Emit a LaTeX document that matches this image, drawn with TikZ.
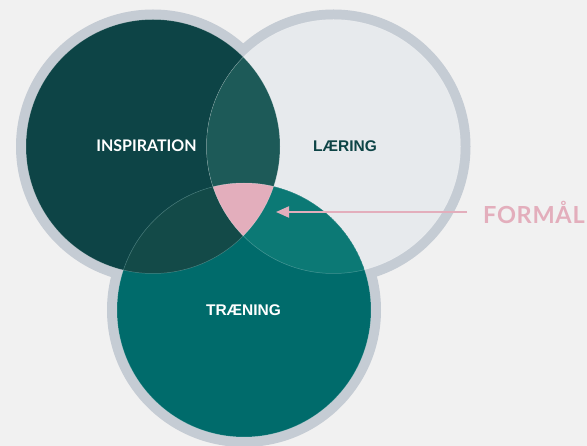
\documentclass[tikz,border=0pt]{standalone}
\usepackage{fontspec}
\setmainfont{Lato}
\newfontfamily\arialfont{Liberation Sans}
\newfontfamily\formalfont[LetterSpace=3]{Lato}
\usetikzlibrary{arrows.meta}

\definecolor{bggray}{HTML}{F1F1F1}
\definecolor{ringgray}{HTML}{C5CCD4}
\definecolor{inspcol}{HTML}{0D4446}
\definecolor{laercol}{HTML}{E7EAED}
\definecolor{traecol}{HTML}{006B6B}
\definecolor{inspalaer}{HTML}{1D5A58}
\definecolor{inspatrae}{HTML}{134A48}
\definecolor{laeratrae}{HTML}{0C7975}
\definecolor{formalpink}{HTML}{E3AEBC}

\begin{document}
\begin{tikzpicture}[x=1pt,y=-1pt,
  ring/.style={circle,fill=ringgray,minimum size=274pt,inner sep=0pt},
  disk/.style={circle,minimum size=254pt,inner sep=0pt},
  venntext/.style={font=\bfseries\fontsize{16}{18}\selectfont},
  arialtext/.style={font=\arialfont\bfseries\fontsize{15.5}{17}\selectfont}]

\fill[bggray] (0,0) rectangle (587,446);
\useasboundingbox (0,0) rectangle (587,446);

\node[ring] at (153,146.5) {};
\node[ring] at (333.5,146.5) {};
\node[ring] at (244,310) {};

\node[disk,fill=inspcol] (insp) at (153,146.5) {};
\node[disk,fill=laercol] (laer) at (333.5,146.5) {};
\node[disk,fill=traecol] (trae) at (244,310) {};

% overlaps
\begin{scope}
  \clip (insp.center) circle (127pt);
  \fill[inspalaer] (laer.center) circle (127pt);
  \fill[inspatrae] (trae.center) circle (127pt);
  \clip (laer.center) circle (127pt);
  \fill[formalpink] (trae.center) circle (127pt);
\end{scope}
\begin{scope}
  \clip (laer.center) circle (127pt);
  \clip (trae.center) circle (127pt);
  \fill[laeratrae] (trae.center) circle (127pt);
  \clip (insp.center) circle (127pt);
  \fill[formalpink] (trae.center) circle (127pt);
\end{scope}

\foreach \c in {insp,laer,trae}
  \draw[white,opacity=0.25,line width=0.5pt] (\c.center) circle (127pt);

\node[venntext,text=white] (insptxt) at (146.5,146) {INSPIRATION};
\node[arialtext,text=inspcol] (laertxt) at (345,146) {LÆRING};
\node[arialtext,text=white] (traetxt) at (243.5,310) {TRÆNING};

\node[text=formalpink,font=\formalfont\bfseries\fontsize{23.5}{27}\selectfont,anchor=west,inner sep=0pt] (formal) at (483,212) {FORMÅL};
\coordinate (arrowstart) at ([xshift=-16pt]formal.west);
\coordinate (target) at (276,212);

\draw[formalpink,line width=2pt,-{Triangle[length=13pt,width=11pt]}] (arrowstart) -- (target);
\end{tikzpicture}
\end{document}
